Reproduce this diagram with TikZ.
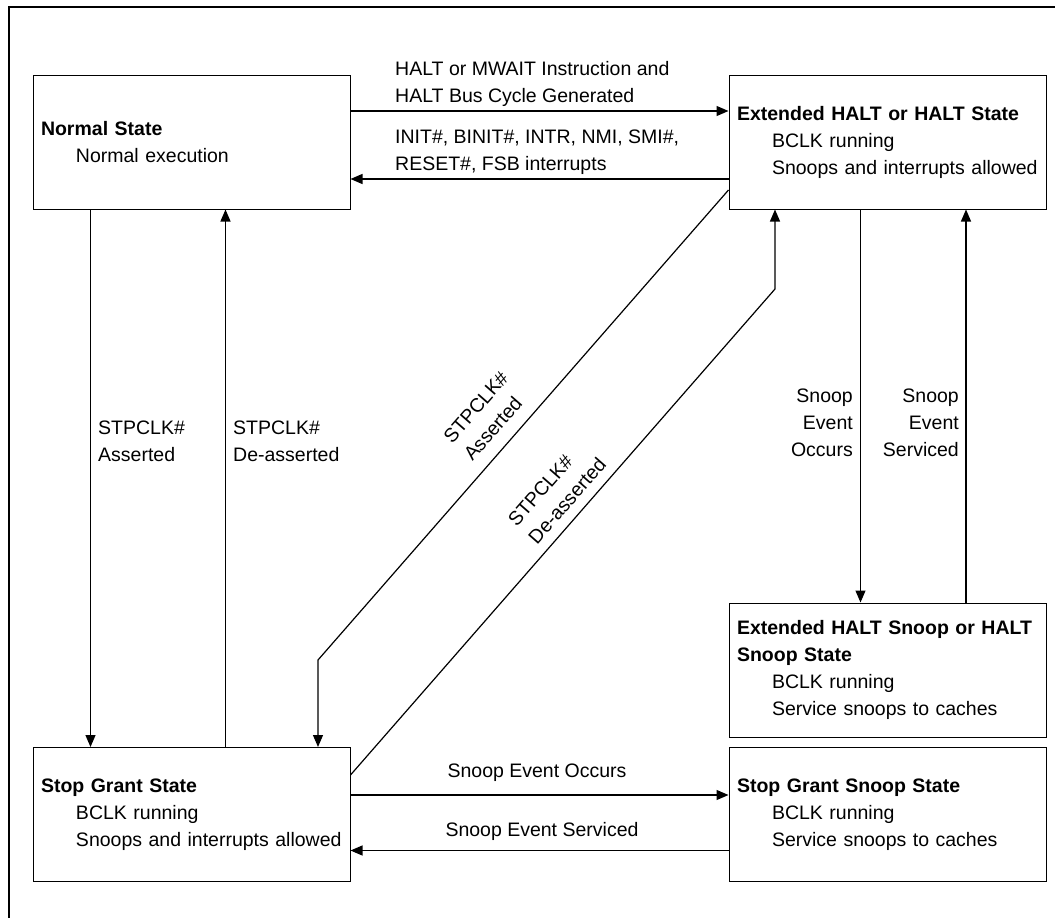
\documentclass[tikz,border=0pt]{standalone}
\usepackage{fontspec}
\setmainfont{Liberation Sans}
\usetikzlibrary{arrows.meta}
\begin{document}
\begin{tikzpicture}[x=1pt,y=-1pt,
  every node/.style={font=\fontsize{19.5}{27}\selectfont},
  statebox/.style={draw, line width=1pt, minimum height=134pt, text width=301pt,
    inner xsep=8pt, inner ysep=0pt, align=left},
  arr/.style={line width=1.2pt, -{Triangle[length=12pt,width=10pt]}},
  lbl/.style={inner sep=0pt, align=left},
  rlbl/.style={inner sep=0pt, align=right},
  clbl/.style={inner sep=0pt, align=center},
  ]
\useasboundingbox (0,0) rectangle (1055,918);
\coordinate (fa) at (9.2,918);
\coordinate (fb) at (9.2,7.2);
\coordinate (fc) at (1055,7.2);
\draw[line width=2.2pt] (fa) -- (fb) -- (fc);

% states
\node[statebox] (N) at (191.5,142) {\textbf{Normal State}\\\hspace*{35pt}Normal execution};
\node[statebox] (E) at (887.5,142) {\textbf{Extended HALT or HALT State}\\\hspace*{35pt}BCLK running\\\hspace*{35pt}Snoops and interrupts allowed};
\node[statebox] (S) at (191.5,814.5) {\textbf{Stop Grant State}\\\hspace*{35pt}BCLK running\\\hspace*{35pt}Snoops and interrupts allowed};
\node[statebox] (ES) at (887.5,670) {\textbf{Extended HALT Snoop or HALT}\\\textbf{Snoop State}\\\hspace*{35pt}BCLK running\\\hspace*{35pt}Service snoops to caches};
\node[statebox] (SS) at (887.5,814.5) {\textbf{Stop Grant Snoop State}\\\hspace*{35pt}BCLK running\\\hspace*{35pt}Service snoops to caches};

% bends
\coordinate (b1) at (318,660);
\coordinate (b2) at (775,289);

% connectors
\draw[arr] ([yshift=31pt]N.east) -- ([yshift=31pt]E.west);
\draw[arr] ([yshift=-37pt]E.west) -- ([yshift=-37pt]N.east);
\draw[arr] ([xshift=-101pt]N.south) -- ([xshift=-101pt]S.north);
\draw[arr] ([xshift=34pt]S.north) -- ([xshift=34pt]N.south);
\draw[arr] ([yshift=-48pt]E.west) -- (b1) -- (S.north -| b1);
\draw[arr] ([yshift=39.5pt]S.east) -- (b2) -- (E.south -| b2);
\draw[arr] ([xshift=-27pt]E.south) -- ([xshift=-27pt]ES.north);
\draw[arr] ([xshift=78.5pt]ES.north) -- ([xshift=78.5pt]E.south);
\draw[arr] ([yshift=19.5pt]S.east) -- ([yshift=19.5pt]SS.west);
\draw[arr] ([yshift=-36pt]SS.west) -- ([yshift=-36pt]S.east);

% labels
\node[lbl, anchor=west] (l1) at (395,84) {HALT or MWAIT Instruction and\\HALT Bus Cycle Generated};
\node[lbl, anchor=west] (l2) at (395,152.5) {INIT\#, BINIT\#, INTR, NMI, SMI\#,\\RESET\#, FSB interrupts};
\node[lbl, anchor=west] (l3) at (98,441.5) {STPCLK\#\\Asserted};
\node[lbl, anchor=west] (l4) at (233,441.5) {STPCLK\#\\De-asserted};
\node[rlbl, anchor=east] (l5) at (853,422.5) {Snoop\\Event\\Occurs};
\node[rlbl, anchor=east] (l6) at (959,422.5) {Snoop\\Event\\Serviced};
\node[clbl] (l7) at (537,773) {Snoop Event Occurs};
\node[clbl] (l8) at (542,831) {Snoop Event Serviced};
\node[lbl, rotate=48.8] (l9) at (486,416) {STPCLK\#\\Asserted};
\node[lbl, rotate=48.8] (l10) at (557,492) {STPCLK\#\\De-asserted};
\end{tikzpicture}
\end{document}
